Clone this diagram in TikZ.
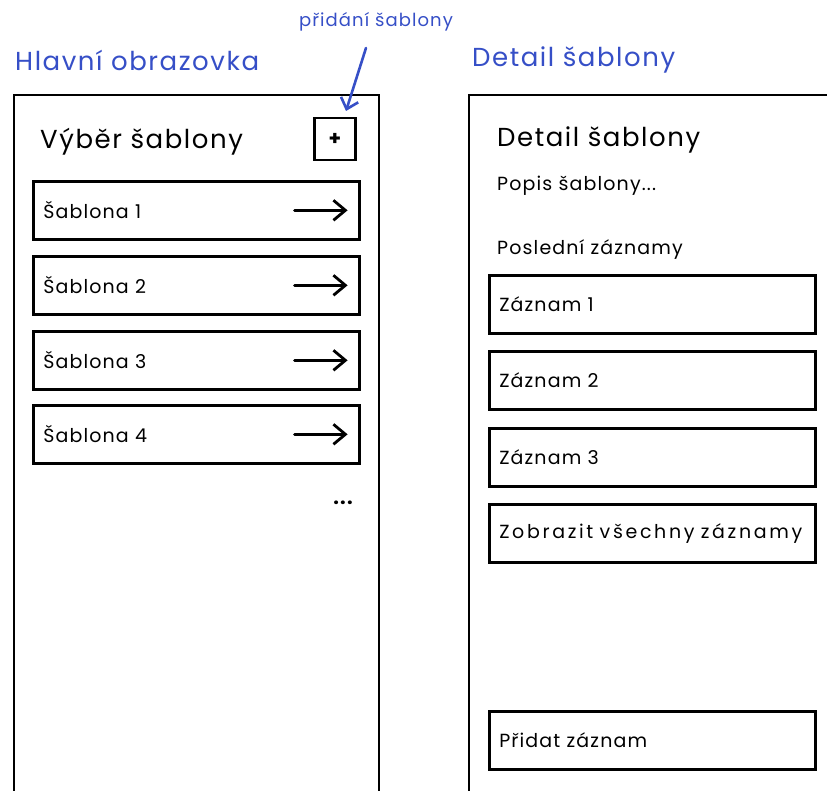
\documentclass[tikz,border=0pt]{standalone}
\usepackage{fontspec}
\setmainfont[LetterSpace=6]{Poppins}
\usetikzlibrary{arrows.meta,calc}
\definecolor{sketchblue}{HTML}{364FC7}
\tikzset{
  frame/.style={draw=black, line width=2.6pt},
  itembox/.style={draw=black, line width=2.6pt, minimum width=326pt, minimum height=58pt, text width=306pt, align=left, inner xsep=10pt, font=\fontsize{19}{22}\selectfont, anchor=north west},
  golink/.style={line width=2.8pt, -{Straight Barb[length=12pt,width=20pt]}, line cap=round},
  bluetext/.style={text=sketchblue, inner sep=0pt},
}
\begin{document}
\begin{tikzpicture}[x=1pt,y=-1pt]
\clip (0,0) rectangle (827,791);
\fill[white] (0,0) rectangle (827,791);
% frames (open below the picture's edge)
\draw[frame] (14,95) rectangle (379,810);
\draw[frame] (469,95) rectangle (840,810);
% headings
\node[bluetext, anchor=west, font=\fontsize{26}{30}\selectfont] (hmain) at (15,60) {Hlavní obrazovka};
\node[bluetext, anchor=west, font=\fontsize{26}{30}\selectfont] (hdetail) at (472,60) {Detail šablony};
\node[bluetext, anchor=center, font=\fontsize{18}{20}\selectfont] (hadd) at (376,22) {přidání šablony};
% left screen
\node[anchor=west, inner sep=0pt, font=\fontsize{26}{30}\selectfont] (ltitle) at (40,142) {Výběr šablony};
\node[draw=black, line width=2.6pt, minimum width=41pt, minimum height=42pt, inner sep=0pt, font=\fontsize{20}{20}\selectfont\bfseries] (plus) at (335,139) {+};
\coordinate (addfrom) at (366,48);
\coordinate (addto) at (346,111);
\draw[draw=sketchblue, line width=2.6pt, line cap=round, -{Straight Barb[length=10pt,width=18pt]}] (addfrom) -- (addto);
\node[itembox] (s1) at (32,180) {Šablona 1};
\node[itembox] (s2) at (32,255) {Šablona 2};
\node[itembox] (s3) at (32,330) {Šablona 3};
\node[itembox] (s4) at (32,404) {Šablona 4};
\foreach \b in {s1,s2,s3,s4}{
  \draw[golink] ($(\b.east)+(-66,0)$) -- ($(\b.east)+(-13,0)$);
}
\node[inner sep=0pt, font=\fontsize{20}{20}\selectfont\bfseries] (dots) at (343,503) {...};
% right screen
\node[anchor=west, inner sep=0pt, font=\fontsize{26}{30}\selectfont] (rtitle) at (497,140) {Detail šablony};
\node[anchor=west, inner sep=0pt, font=\fontsize{19}{22}\selectfont] (desc) at (497,186) {Popis šablony...};
\node[anchor=west, inner sep=0pt, font=\fontsize{19}{22}\selectfont] (recent) at (497,250) {Poslední záznamy};
\node[itembox] (z1) at (488,274) {Záznam 1};
\node[itembox] (z2) at (488,350) {Záznam 2};
\node[itembox] (z3) at (488,427) {Záznam 3};
\node[itembox, inner xsep=8pt, font=\fontsize{19}{22}\selectfont\addfontfeature{LetterSpace=14}] (z4) at (488,503) {Zobrazit všechny záznamy};
\node[itembox] (z5) at (488,710) {Přidat záznam};
\end{tikzpicture}
\end{document}
